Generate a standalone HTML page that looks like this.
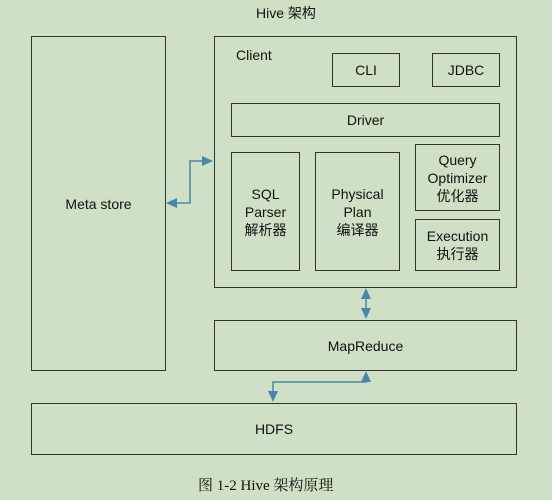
<!DOCTYPE html><html><head><style>
body{margin:0;width:552px;height:500px;background:#cfe0c6;font-family:"Liberation Sans","Noto Sans CJK SC",sans-serif;position:relative;overflow:hidden}
.b{position:absolute;border:1.5px solid #333;box-sizing:border-box;display:flex;align-items:center;justify-content:center;text-align:center;font-size:14px;color:#111;line-height:18px}
.t{position:absolute;font-size:14px;color:#111}
</style></head><body>
<div class="t" style="left:256px;top:3px">Hive 架构</div>
<div class="b" style="left:31px;top:36px;width:135px;height:335px">Meta store</div>
<div class="b" style="left:214px;top:36px;width:303px;height:252px"></div>
<div class="t" style="left:236px;top:47px">Client</div>
<div class="b" style="left:332px;top:53px;width:68px;height:34px">CLI</div>
<div class="b" style="left:432px;top:53px;width:68px;height:34px">JDBC</div>
<div class="b" style="left:231px;top:103px;width:269px;height:34px">Driver</div>
<div class="b" style="left:231px;top:152px;width:69px;height:119px">SQL<br>Parser<br>解析器</div>
<div class="b" style="left:315px;top:152px;width:85px;height:119px">Physical<br>Plan<br>编译器</div>
<div class="b" style="left:415px;top:144px;width:85px;height:67px">Query<br>Optimizer<br>优化器</div>
<div class="b" style="left:415px;top:219px;width:85px;height:52px">Execution<br>执行器</div>
<div class="b" style="left:214px;top:320px;width:303px;height:51px">MapReduce</div>
<div class="b" style="left:31px;top:403px;width:486px;height:52px">HDFS</div>
<div class="t" style="left:198px;top:474px;font-family:'Liberation Serif','Noto Serif CJK SC',serif;font-size:15px">图 1-2 Hive 架构原理</div>
<svg width="552" height="500" style="position:absolute;left:0;top:0" fill="#4a86a8">
<g stroke="#4a86a8" stroke-width="1.5" fill="none">
<polyline points="172,203 190,203 190,161 206,161"/>
<line x1="366" y1="295" x2="366" y2="312"/>
<polyline points="366,377 366,382 273,382 273,395"/>
</g>
<polygon points="166,203 177,198 177,208"/>
<polygon points="213,161 202,156 202,166"/>
<polygon points="366,288 361,299 371,299"/>
<polygon points="366,319 361,308 371,308"/>
<polygon points="366,371 361,382 371,382"/>
<polygon points="273,402 268,391 278,391"/>
</svg>
</body></html>
